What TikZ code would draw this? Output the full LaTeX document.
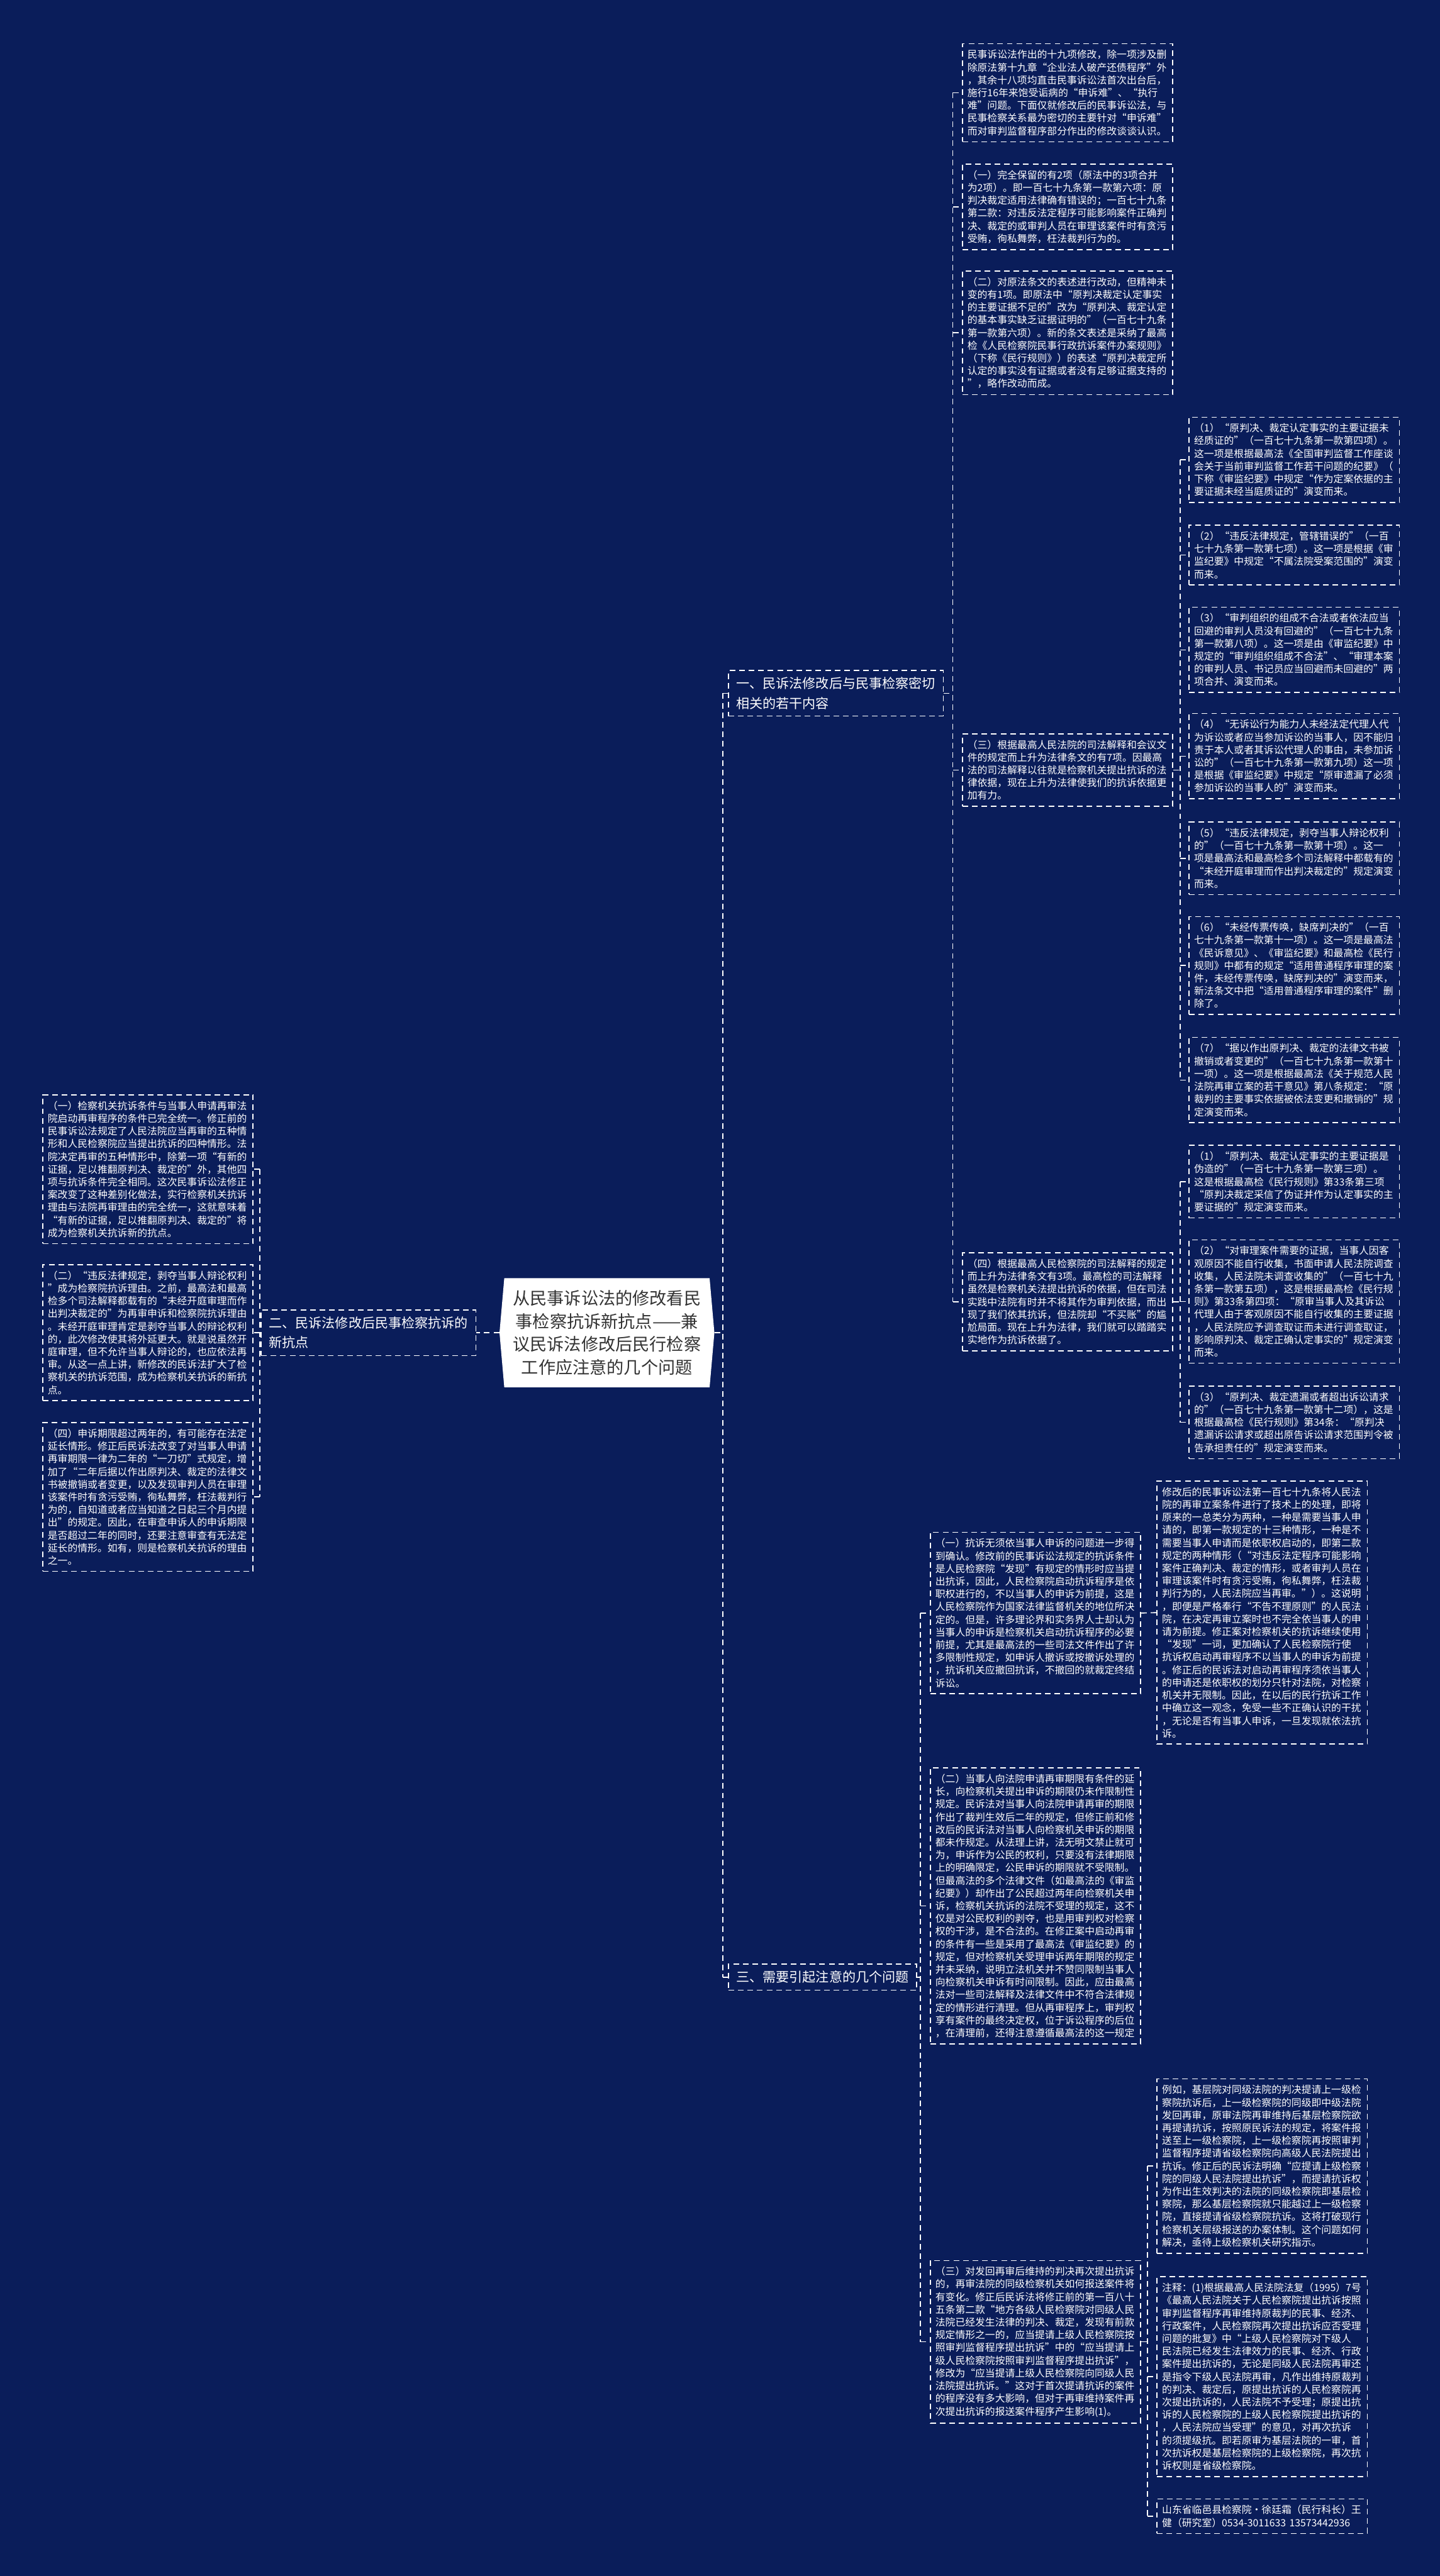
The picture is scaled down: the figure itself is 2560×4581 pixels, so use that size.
\documentclass[tikz,border=0pt]{standalone}
\usepackage{fontspec}
\setmainfont{Noto Sans CJK SC}
\usetikzlibrary{calc,shapes.symbols}
\definecolor{bgnavy}{HTML}{0A1D5A}
\definecolor{centertext}{HTML}{333333}
\begin{document}
\begin{tikzpicture}[x=0.5pt,y=-0.5pt,
  box/.style={draw=white, line width=0.9pt, dash pattern=on 5pt off 3.5pt, text=white,
    font=\fontsize{8.85pt}{11.3pt}\selectfont, align=left, text width=178pt,
    inner xsep=4.5pt, inner ysep=5.5pt, anchor=north west},
  lbl/.style={draw=white, line width=0.9pt, dash pattern=on 5pt off 3.5pt, text=white,
    font=\fontsize{11.8pt}{17.5pt}\selectfont, align=left, inner xsep=7pt, inner ysep=6pt},
  conn/.style={draw=white, line width=0.9pt, dash pattern=on 5pt off 3.5pt},
]
\fill[bgnavy] (0,0) rectangle (2560,4581);
\useasboundingbox (0,0) rectangle (2560,4581);

% root
\node[signal, signal to=east and west, signal pointer angle=170, fill=white, text=centertext,
  font=\fontsize{15.2pt}{20.5pt}\selectfont, align=center, minimum width=191pt,
  minimum height=97pt, inner sep=0pt] (root) at (1079,2370)
  {从民事诉讼法的修改看民\\事检察抗诉新抗点——兼\\议民诉法修改后民行检察\\工作应注意的几个问题};

% branch labels
\node[lbl, anchor=west] (B1) at (1294,1233) {一、民诉法修改后与民事检察密切\\相关的若干内容};
\node[lbl, anchor=east] (B2) at (847,2370) {二、民诉法修改后民事检察抗诉的\\新抗点};
\node[lbl, anchor=west] (B3) at (1294,3516) {三、需要引起注意的几个问题};

% branch 1 children
\node[box] (A1) at (1710,77) {民事诉讼法作出的十九项修改，除一项涉及删\\除原法第十九章“企业法人破产还债程序”外\\，其余十八项均直击民事诉讼法首次出台后，\\施行16年来饱受诟病的“申诉难”、“执行\\难”问题。下面仅就修改后的民事诉讼法，与\\民事检察关系最为密切的主要针对“申诉难”\\而对审判监督程序部分作出的修改谈谈认识。};
\node[box] (A2) at (1710,291) {（一）完全保留的有2项（原法中的3项合并\\为2项）。即一百七十九条第一款第六项：原\\判决裁定适用法律确有错误的；一百七十九条\\第二款：对违反法定程序可能影响案件正确判\\决、裁定的或审判人员在审理该案件时有贪污\\受贿，徇私舞弊，枉法裁判行为的。};
\node[box] (A3) at (1710,481) {（二）对原法条文的表述进行改动，但精神未\\变的有1项。即原法中“原判决裁定认定事实\\的主要证据不足的”改为“原判决、裁定认定\\的基本事实缺乏证据证明的”（一百七十九条\\第一款第六项）。新的条文表述是采纳了最高\\检《人民检察院民事行政抗诉案件办案规则》\\（下称《民行规则》）的表述“原判决裁定所\\认定的事实没有证据或者没有足够证据支持的\\”，略作改动而成。};
\node[box] (A4) at (1710,1304) {（三）根据最高人民法院的司法解释和会议文\\件的规定而上升为法律条文的有7项。因最高\\法的司法解释以往就是检察机关提出抗诉的法\\律依据，现在上升为法律使我们的抗诉依据更\\加有力。};
\node[box] (A5) at (1710,2227) {（四）根据最高人民检察院的司法解释的规定\\而上升为法律条文有3项。最高检的司法解释\\虽然是检察机关法提出抗诉的依据，但在司法\\实践中法院有时并不将其作为审判依据，而出\\现了我们依其抗诉，但法院却“不买账”的尴\\尬局面。现在上升为法律，我们就可以踏踏实\\实地作为抗诉依据了。};

\node[box] (C1) at (2113,741) {（1）“原判决、裁定认定事实的主要证据未\\经质证的”（一百七十九条第一款第四项）。\\这一项是根据最高法《全国审判监督工作座谈\\会关于当前审判监督工作若干问题的纪要》（\\下称《审监纪要》中规定“作为定案依据的主\\要证据未经当庭质证的”演变而来。};
\node[box] (C2) at (2113,933) {（2）“违反法律规定，管辖错误的”（一百\\七十九条第一款第七项）。这一项是根据《审\\监纪要》中规定“不属法院受案范围的”演变\\而来。};
\node[box] (C3) at (2113,1079) {（3）“审判组织的组成不合法或者依法应当\\回避的审判人员没有回避的”（一百七十九条\\第一款第八项）。这一项是由《审监纪要》中\\规定的“审判组织组成不合法”、“审理本案\\的审判人员、书记员应当回避而未回避的”两\\项合并、演变而来。};
\node[box] (C4) at (2113,1268) {（4）“无诉讼行为能力人未经法定代理人代\\为诉讼或者应当参加诉讼的当事人，因不能归\\责于本人或者其诉讼代理人的事由，未参加诉\\讼的”（一百七十九条第一款第九项）这一项\\是根据《审监纪要》中规定“原审遗漏了必须\\参加诉讼的当事人的”演变而来。};
\node[box] (C5) at (2113,1461) {（5）“违反法律规定，剥夺当事人辩论权利\\的”（一百七十九条第一款第十项）。这一\\项是最高法和最高检多个司法解释中都载有的\\“未经开庭审理而作出判决裁定的”规定演变\\而来。};
\node[box] (C6) at (2113,1629) {（6）“未经传票传唤，缺席判决的”（一百\\七十九条第一款第十一项）。这一项是最高法\\《民诉意见》、《审监纪要》和最高检《民行\\规则》中都有的规定“适用普通程序审理的案\\件，未经传票传唤，缺席判决的”演变而来，\\新法条文中把“适用普通程序审理的案件”删\\除了。};
\node[box] (C7) at (2113,1844) {（7）“据以作出原判决、裁定的法律文书被\\撤销或者变更的”（一百七十九条第一款第十\\一项）。这一项是根据最高法《关于规范人民\\法院再审立案的若干意见》第八条规定：“原\\裁判的主要事实依据被依法变更和撤销的”规\\定演变而来。};
\node[box] (C8) at (2113,2036) {（1）“原判决、裁定认定事实的主要证据是\\伪造的”（一百七十九条第一款第三项）。\\这是根据最高检《民行规则》第33条第三项\\“原判决裁定采信了伪证并作为认定事实的主\\要证据的”规定演变而来。};
\node[box] (C9) at (2113,2204) {（2）“对审理案件需要的证据，当事人因客\\观原因不能自行收集，书面申请人民法院调查\\收集，人民法院未调查收集的”（一百七十九\\条第一款第五项），这是根据最高检《民行规\\则》第33条第四项：“原审当事人及其诉讼\\代理人由于客观原因不能自行收集的主要证据\\，人民法院应予调查取证而未进行调查取证，\\影响原判决、裁定正确认定事实的”规定演变\\而来。};
\node[box] (C10) at (2113,2464) {（3）“原判决、裁定遗漏或者超出诉讼请求\\的”（一百七十九条第一款第十二项），这是\\根据最高检《民行规则》第34条：“原判决\\遗漏诉讼请求或超出原告诉讼请求范围判令被\\告承担责任的”规定演变而来。};

% branch 2 children
\node[box] (L1) at (75,1946) {（一）检察机关抗诉条件与当事人申请再审法\\院启动再审程序的条件已完全统一。修正前的\\民事诉讼法规定了人民法院应当再审的五种情\\形和人民检察院应当提出抗诉的四种情形。法\\院决定再审的五种情形中，除第一项“有新的\\证据，足以推翻原判决、裁定的”外，其他四\\项与抗诉条件完全相同。这次民事诉讼法修正\\案改变了这种差别化做法，实行检察机关抗诉\\理由与法院再审理由的完全统一，这就意味着\\“有新的证据，足以推翻原判决、裁定的”将\\成为检察机关抗诉新的抗点。};
\node[box] (L2) at (75,2248) {（二）“违反法律规定，剥夺当事人辩论权利\\”成为检察院抗诉理由。之前，最高法和最高\\检多个司法解释都载有的“未经开庭审理而作\\出判决裁定的”为再审申诉和检察院抗诉理由\\。未经开庭审理肯定是剥夺当事人的辩论权利\\的，此次修改使其将外延更大。就是说虽然开\\庭审理，但不允许当事人辩论的，也应依法再\\审。从这一点上讲，新修改的民诉法扩大了检\\察机关的抗诉范围，成为检察机关抗诉的新抗\\点。};
\node[box] (L3) at (75,2529) {（四）申诉期限超过两年的，有可能存在法定\\延长情形。修正后民诉法改变了对当事人申请\\再审期限一律为二年的“一刀切”式规定，增\\加了“二年后据以作出原判决、裁定的法律文\\书被撤销或者变更，以及发现审判人员在审理\\该案件时有贪污受贿，徇私舞弊，枉法裁判行\\为的，自知道或者应当知道之日起三个月内提\\出”的规定。因此，在审查申诉人的申诉期限\\是否超过二年的同时，还要注意审查有无法定\\延长的情形。如有，则是检察机关抗诉的理由\\之一。};

% branch 3 children
\node[box] (D1) at (1653,2724) {（一）抗诉无须依当事人申诉的问题进一步得\\到确认。修改前的民事诉讼法规定的抗诉条件\\是人民检察院“发现”有规定的情形时应当提\\出抗诉，因此，人民检察院启动抗诉程序是依\\职权进行的，不以当事人的申诉为前提，这是\\人民检察院作为国家法律监督机关的地位所决\\定的。但是，许多理论界和实务界人士却认为\\当事人的申诉是检察机关启动抗诉程序的必要\\前提，尤其是最高法的一些司法文件作出了许\\多限制性规定，如申诉人撤诉或按撤诉处理的\\，抗诉机关应撤回抗诉，不撤回的就裁定终结\\诉讼。};
\node[box] (D2) at (1653,3143) {（二）当事人向法院申请再审期限有条件的延\\长，向检察机关提出申诉的期限仍未作限制性\\规定。民诉法对当事人向法院申请再审的期限\\作出了裁判生效后二年的规定，但修正前和修\\改后的民诉法对当事人向检察机关申诉的期限\\都未作规定。从法理上讲，法无明文禁止就可\\为，申诉作为公民的权利，只要没有法律期限\\上的明确限定，公民申诉的期限就不受限制。\\但最高法的多个法律文件（如最高法的《审监\\纪要》）却作出了公民超过两年向检察机关申\\诉，检察机关抗诉的法院不受理的规定，这不\\仅是对公民权利的剥夺，也是用审判权对检察\\权的干涉，是不合法的。在修正案中启动再审\\的条件有一些是采用了最高法《审监纪要》的\\规定，但对检察机关受理申诉两年期限的规定\\并未采纳，说明立法机关并不赞同限制当事人\\向检察机关申诉有时间限制。因此，应由最高\\法对一些司法解释及法律文件中不符合法律规\\定的情形进行清理。但从再审程序上，审判权\\享有案件的最终决定权，位于诉讼程序的后位\\，在清理前，还得注意遵循最高法的这一规定};
\node[box] (D3) at (1653,4019) {（三）对发回再审后维持的判决再次提出抗诉\\的，再审法院的同级检察机关如何报送案件将\\有变化。修正后民诉法将修正前的第一百八十\\五条第二款“地方各级人民检察院对同级人民\\法院已经发生法律的判决、裁定，发现有前款\\规定情形之一的，应当提请上级人民检察院按\\照审判监督程序提出抗诉”中的“应当提请上\\级人民检察院按照审判监督程序提出抗诉”，\\修改为“应当提请上级人民检察院向同级人民\\法院提出抗诉。”这对于首次提请抗诉的案件\\的程序没有多大影响，但对于再审维持案件再\\次提出抗诉的报送案件程序产生影响(1)。};

\node[box] (E1) at (2056,2633) {修改后的民事诉讼法第一百七十九条将人民法\\院的再审立案条件进行了技术上的处理，即将\\原来的一总类分为两种，一种是需要当事人申\\请的，即第一款规定的十三种情形，一种是不\\需要当事人申请而是依职权启动的，即第二款\\规定的两种情形（“对违反法定程序可能影响\\案件正确判决、裁定的情形，或者审判人员在\\审理该案件时有贪污受贿，徇私舞弊，枉法裁\\判行为的，人民法院应当再审。”）。这说明\\，即便是严格奉行“不告不理原则”的人民法\\院，在决定再审立案时也不完全依当事人的申\\请为前提。修正案对检察机关的抗诉继续使用\\“发现”一词，更加确认了人民检察院行使\\抗诉权启动再审程序不以当事人的申诉为前提\\。修正后的民诉法对启动再审程序须依当事人\\的申请还是依职权的划分只针对法院，对检察\\机关并无限制。因此，在以后的民行抗诉工作\\中确立这一观念，免受一些不正确认识的干扰\\，无论是否有当事人申诉，一旦发现就依法抗\\诉。};
\node[box] (E2) at (2056,3696) {例如，基层院对同级法院的判决提请上一级检\\察院抗诉后，上一级检察院的同级即中级法院\\发回再审，原审法院再审维持后基层检察院欲\\再提请抗诉，按照原民诉法的规定，将案件报\\送至上一级检察院，上一级检察院再按照审判\\监督程序提请省级检察院向高级人民法院提出\\抗诉。修正后的民诉法明确“应提请上级检察\\院的同级人民法院提出抗诉”，而提请抗诉权\\为作出生效判决的法院的同级检察院即基层检\\察院，那么基层检察院就只能越过上一级检察\\院，直接提请省级检察院抗诉。这将打破现行\\检察机关层级报送的办案体制。这个问题如何\\解决，亟待上级检察机关研究指示。};
\node[box] (E3) at (2056,4048) {注释：(1)根据最高人民法院法复（1995）7号\\《最高人民法院关于人民检察院提出抗诉按照\\审判监督程序再审维持原裁判的民事、经济、\\行政案件，人民检察院再次提出抗诉应否受理\\问题的批复》中“上级人民检察院对下级人\\民法院已经发生法律效力的民事、经济、行政\\案件提出抗诉的，无论是同级人民法院再审还\\是指令下级人民法院再审，凡作出维持原裁判\\的判决、裁定后，原提出抗诉的人民检察院再\\次提出抗诉的，人民法院不予受理；原提出抗\\诉的人民检察院的上级人民检察院提出抗诉的\\，人民法院应当受理”的意见，对再次抗诉\\的须提级抗。即若原审为基层法院的一审，首\\次抗诉权是基层检察院的上级检察院，再次抗\\诉权则是省级检察院。};
\node[box] (E4) at (2056,4443) {山东省临邑县检察院·徐廷霜（民行科长）王\\健（研究室）0534-3011633~13573442936};

% connectors
\coordinate (t) at (1285,0);
\coordinate (s1) at (1694,0);
\coordinate (s2) at (2098,0);
\coordinate (s3) at (1636,0);
\coordinate (s4) at (2040,0);
\coordinate (sl) at (462,0);

\draw[conn] (root.east) -- (root.east -| t);
\draw[conn] (t |- B1.west) -- (t |- B3.west);
\draw[conn] (t |- B1.west) -- (B1.west);
\draw[conn] (t |- B3.west) -- (B3.west);

\draw[conn] (root.west) -- (B2.east);
\draw[conn] (B2.west) -- (B2.west -| sl);
\draw[conn] (sl |- L1.east) -- (sl |- L3.east);
\foreach \n in {L1,L2,L3} \draw[conn] (sl |- \n.east) -- (\n.east);

\draw[conn] (B1.east) -- (B1.east -| s1);
\draw[conn] (s1 |- A1.west) -- (s1 |- A5.west);
\foreach \n in {A1,A2,A3,A4,A5} \draw[conn] (s1 |- \n.west) -- (\n.west);

\draw[conn] (A4.east) -- (A4.east -| s2);
\draw[conn] (s2 |- C1.west) -- (s2 |- C7.west);
\foreach \n in {C1,C2,C3,C4,C5,C6,C7} \draw[conn] (s2 |- \n.west) -- (\n.west);

\draw[conn] (A5.east) -- (A5.east -| s2);
\draw[conn] (s2 |- C8.west) -- (s2 |- C10.west);
\foreach \n in {C8,C9,C10} \draw[conn] (s2 |- \n.west) -- (\n.west);

\draw[conn] (B3.east) -- (B3.east -| s3);
\draw[conn] (s3 |- D1.west) -- (s3 |- D3.west);
\foreach \n in {D1,D2,D3} \draw[conn] (s3 |- \n.west) -- (\n.west);

\draw[conn] (D1.east) -- (E1.west);

\draw[conn] (D3.east) -- (D3.east -| s4);
\draw[conn] (s4 |- E2.west) -- (s4 |- E4.west);
\foreach \n in {E2,E3,E4} \draw[conn] (s4 |- \n.west) -- (\n.west);
\end{tikzpicture}
\end{document}
